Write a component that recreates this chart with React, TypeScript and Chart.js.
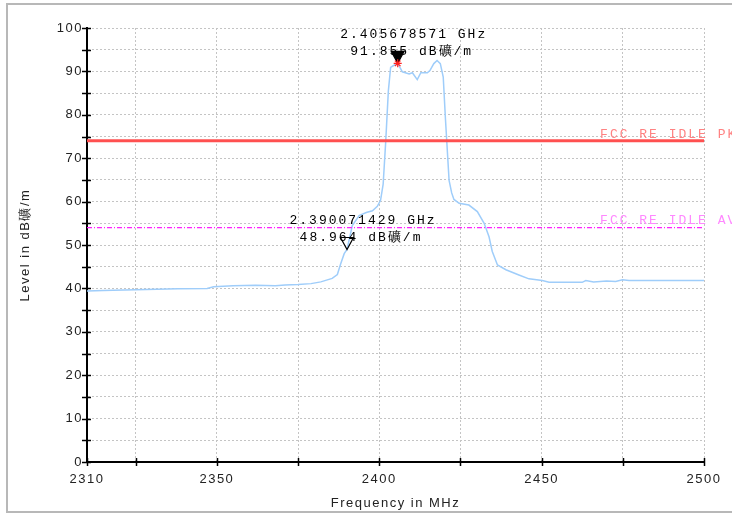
import React, { useEffect, useRef } from "react";
import { Chart, registerables } from "chart.js";

Chart.register(...registerables);

// Measured trace (frequency in MHz, level in dBµV/m)
const freqMHz = [
  2310, 2315, 2318, 2325, 2338, 2347, 2349, 2355, 2362, 2368, 2371, 2375, 2379, 2382,
  2385.5, 2387.1, 2388.1, 2389.2, 2390.07, 2391.7, 2393.8, 2396, 2397.9, 2399.4, 2400.4,
  2401.2, 2402, 2402.8, 2403.5, 2404.3, 2405.68, 2407.1, 2409.2, 2410.2, 2411.7, 2412.8,
  2414.8, 2415.6, 2416.8, 2417.8, 2418.8, 2419.7, 2420.4, 2421.5, 2422.3, 2423, 2424.6,
  2427.6, 2430.2, 2432.3, 2433.8, 2434.8, 2436.4, 2439, 2443, 2446.1, 2450.2, 2452.3,
  2462.5, 2463.6, 2466, 2470, 2472.8, 2474.9, 2476.9, 2485, 2500,
];
const levelDb = [
  39.4, 39.5, 39.6, 39.7, 39.9, 40.0, 40.4, 40.6, 40.7, 40.6, 40.8, 40.9, 41.1, 41.5,
  42.3, 43.2, 45.6, 48.0, 48.964, 54.5, 56.8, 57.5, 57.9, 58.9, 60.3,
  64.0, 74.0, 85.5, 90.9, 91.3, 91.855, 89.9, 89.4, 89.7, 88.1, 89.7,
  89.7, 90.2, 91.8, 92.5, 91.8, 88.7, 78.8, 64.9, 62.0, 60.5, 59.6,
  59.2, 57.7, 55.0, 51.9, 48.5, 45.4, 44.3, 43.1, 42.2, 41.8, 41.4,
  41.4, 41.8, 41.5, 41.7, 41.6, 42.0, 41.8, 41.8, 41.8,
];

const limitFreq = [2310, 2500];
const pkLimit = [74, 74];
const avLimit = [54, 54];
const limitLabels = ["FCC RE IDLE PK", "FCC RE IDLE AV"];
const limitLabelFreq = 2468;

const markerFreq = [2405.678571, 2390.071429];
const markerLevel = [91.855, 48.964];
const markerFreqText = ["2.405678571 GHz", "2.390071429 GHz"];
const markerLevelText = ["91.855 dB礦/m", "48.964 dB礦/m"];
const markerFilled = [true, false];

const xTickValues = [2310, 2325, 2350, 2375, 2400, 2425, 2450, 2475, 2500];
const xLabelValues = [2310, 2350, 2400, 2450, 2500];
const yMin = 0;
const yMax = 100;
const yStep = 5;
const yLabelStep = 10;

const xTitle = "Frequency in MHz";
const yTitle = "Level in dB礦/m";

const TRACE = "#9fcdfa";
const PK_COLOR = "#ff5050";
const PK_TEXT = "#ff8282";
const AV_COLOR = "#ff22ff";
const AV_TEXT = "#ff88ff";

const decorPlugin = {
  id: "decor",
  beforeDraw(chart: any) {
    const ctx = chart.ctx;
    ctx.save();
    ctx.fillStyle = "#ffffff";
    ctx.fillRect(0, 0, chart.width, chart.height);
    ctx.strokeStyle = "#b8b8b8";
    ctx.lineWidth = 2;
    ctx.strokeRect(7, 4, 780, 508);
    ctx.restore();
    ctx.letterSpacing = "1.5px";
  },
  afterDraw(chart: any) {
    const ctx = chart.ctx;
    const xs = chart.scales.x;
    const ys = chart.scales.y;
    const area = chart.chartArea;
    ctx.save();
    ctx.letterSpacing = "0px";
    // tick marks crossing the axes
    ctx.strokeStyle = "#000";
    ctx.lineWidth = 1.5;
    for (let v = yMin; v <= yMax; v += yStep) {
      const py = Math.round(ys.getPixelForValue(v)) + 0.5;
      ctx.beginPath();
      ctx.moveTo(area.left - 5, py);
      ctx.lineTo(area.left + 4, py);
      ctx.stroke();
    }
    for (const v of xTickValues) {
      const px = Math.round(xs.getPixelForValue(v)) + 0.5;
      ctx.beginPath();
      ctx.moveTo(px, area.bottom - 4);
      ctx.lineTo(px, area.bottom + 4);
      ctx.stroke();
    }

    // limit labels
    ctx.font = '13px "Liberation Mono"';
    ctx.letterSpacing = "2px";
    ctx.textAlign = "left";
    ctx.textBaseline = "alphabetic";
    const limX = xs.getPixelForValue(limitLabelFreq);
    ctx.fillStyle = PK_TEXT;
    ctx.fillText(limitLabels[0], limX, ys.getPixelForValue(pkLimit[0]) - 3);
    ctx.fillStyle = AV_TEXT;
    ctx.fillText(limitLabels[1], limX, ys.getPixelForValue(avLimit[0]) - 4);

    // markers
    for (let i = 0; i < markerFreq.length; i++) {
      const px = xs.getPixelForValue(markerFreq[i]);
      const py = ys.getPixelForValue(markerLevel[i]);
      ctx.fillStyle = "#000";
      ctx.textAlign = "center";
      ctx.fillText(markerFreqText[i], px + 16, py - 25);
      ctx.fillText(markerLevelText[i], px + 14, py - 8);

      ctx.beginPath();
      ctx.moveTo(px - 6.5, py - 12);
      ctx.lineTo(px + 6.5, py - 12);
      ctx.lineTo(px, py);
      ctx.closePath();
      ctx.lineWidth = 1.2;
      if (markerFilled[i]) {
        ctx.fillStyle = "#000";
        ctx.fill();
        ctx.strokeStyle = "#000";
        ctx.stroke();
        ctx.strokeStyle = "#ff2020";
        ctx.lineWidth = 1.2;
        const r = 4;
        ctx.beginPath();
        ctx.moveTo(px - r, py);
        ctx.lineTo(px + r, py);
        ctx.moveTo(px, py - r);
        ctx.lineTo(px, py + r);
        ctx.moveTo(px - r * 0.7, py - r * 0.7);
        ctx.lineTo(px + r * 0.7, py + r * 0.7);
        ctx.moveTo(px - r * 0.7, py + r * 0.7);
        ctx.lineTo(px + r * 0.7, py - r * 0.7);
        ctx.stroke();
      } else {
        ctx.strokeStyle = "#000";
        ctx.stroke();
      }
    }
    ctx.restore();
  },
};

export default function App() {
  const ref = useRef<HTMLCanvasElement | null>(null);

  useEffect(() => {
    if (!ref.current) return;
    const toPts = (xsArr: number[], ysArr: number[]) => xsArr.map((x, i) => ({ x, y: ysArr[i] }));
    const tickFont = { family: '"Liberation Sans", Arial, sans-serif', size: 13 };
    const chart = new Chart(ref.current, {
      type: "line",
      data: {
        datasets: [
          {
            label: limitLabels[0],
            data: toPts(limitFreq, pkLimit),
            borderColor: PK_COLOR,
            borderWidth: 3,
            pointRadius: 0,
            tension: 0,
          },
          {
            label: limitLabels[1],
            data: toPts(limitFreq, avLimit),
            borderColor: AV_COLOR,
            borderWidth: 1.2,
            borderDash: [5, 2, 1, 2],
            pointRadius: 0,
            tension: 0,
          },
          {
            label: "Trace",
            data: toPts(freqMHz, levelDb),
            borderColor: TRACE,
            borderWidth: 1.5,
            pointRadius: 0,
            tension: 0,
          },
        ],
      },
      options: {
        responsive: false,
        animation: false,
        events: [],
        layout: { padding: { left: 0, top: 28, right: 28, bottom: 0 } },
        plugins: { legend: { display: false }, tooltip: { enabled: false } },
        scales: {
          x: {
            type: "linear",
            min: 2310,
            max: 2500,
            afterBuildTicks: (s: any) => {
              s.ticks = xTickValues.map((value) => ({ value }));
            },
            afterFit: (s: any) => {
              s.height = 54;
              s.paddingLeft = 0;
              s.paddingRight = 0;
            },
            grid: { color: "#c4c4c4", lineWidth: 1, drawTicks: false },
            border: { display: true, color: "#000", width: 2, dash: [2, 2] },
            ticks: {
              autoSkip: false,
              maxRotation: 0,
              padding: 10,
              color: "#222",
              font: tickFont,
              callback: (v: any) => (xLabelValues.includes(Number(v)) ? String(v) : ""),
            },
            title: {
              display: true,
              text: xTitle,
              color: "#222",
              font: tickFont,
              padding: { top: 0, bottom: 5 },
            },
          },
          y: {
            type: "linear",
            min: yMin,
            max: yMax,
            afterFit: (s: any) => {
              s.width = 87;
              s.paddingTop = 0;
              s.paddingBottom = 0;
            },
            grid: { color: "#c4c4c4", lineWidth: 1, drawTicks: false },
            border: { display: true, color: "#000", width: 2, dash: [2, 2] },
            ticks: {
              stepSize: yStep,
              autoSkip: false,
              padding: 4,
              color: "#222",
              font: tickFont,
              callback: (v: any) => (Number(v) % yLabelStep === 0 ? String(v) : ""),
            },
            title: {
              display: true,
              text: yTitle,
              color: "#222",
              font: tickFont,
              padding: { top: 18, bottom: 0 },
            },
          },
        },
      },
      plugins: [decorPlugin],
    } as any);
    return () => chart.destroy();
  }, []);

  return (
    <div style={{ position: "absolute", left: 0, top: 0, width: 732, height: 516 }}>
      <canvas ref={ref} width={732} height={516} style={{ display: "block" }} />
    </div>
  );
}
